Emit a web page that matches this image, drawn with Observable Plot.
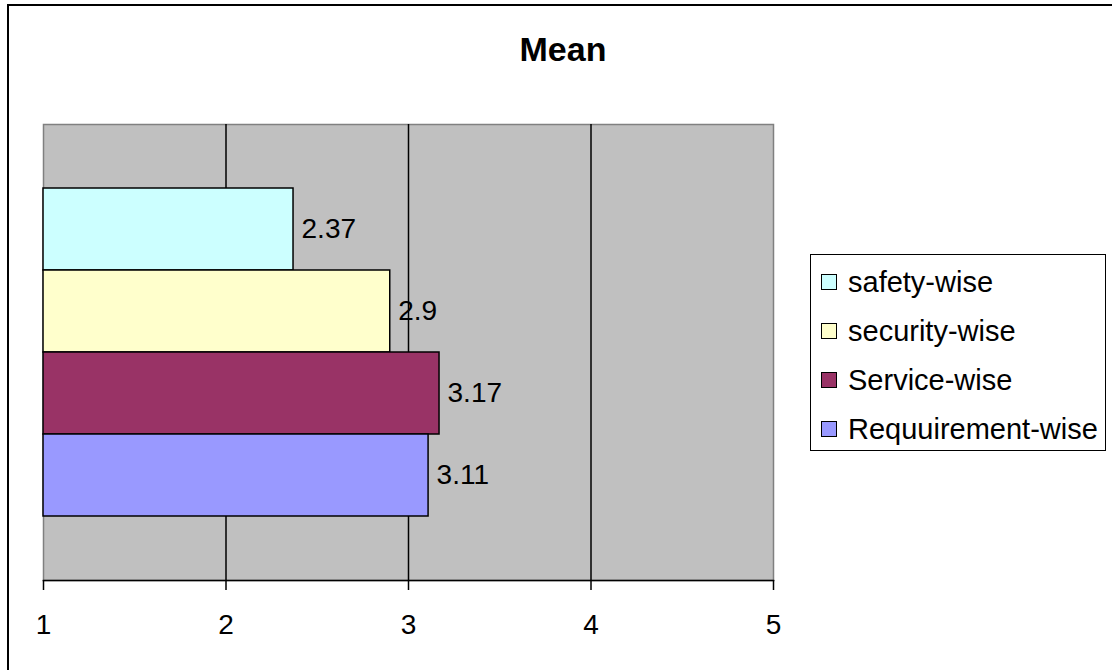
<!DOCTYPE html>
<html>
<head>
<meta charset="utf-8">
<script src="https://cdn.jsdelivr.net/npm/d3@7"></script>
<script src="https://cdn.jsdelivr.net/npm/@observablehq/plot@0.6"></script>
<style>
  html, body { margin: 0; padding: 0; background: #fff; }
  #wrap { position: relative; width: 1112px; height: 670px; overflow: hidden; font-family: "Liberation Sans", Arial, sans-serif; }
  #outer { position: absolute; left: 7px; top: 4px; width: 1200px; height: 800px; border: 2px solid #000; box-sizing: border-box; }
  #chart { position: absolute; left: 0; top: 0; }
  #title { position: absolute; left: 463px; width: 200px; top: 30px; text-align: center; font-weight: bold; font-size: 34px; line-height: 38px; }
  #legend { position: absolute; left: 810px; top: 254px; width: 296px; height: 197px; border: 1px solid #000; box-sizing: border-box; background: #fff; }
  .item { position: absolute; left: 10px; height: 30px; display: flex; align-items: center; font-size: 29px; white-space: nowrap; }
  .sw { width: 16px; height: 16px; border: 1.5px solid #000; box-sizing: border-box; margin-right: 11px; }
</style>
</head>
<body>
<div id="wrap">
  <div id="outer"></div>
  <div id="chart"></div>
  <div id="title">Mean</div>
  <div id="legend"></div>
</div>
<script>
const series = ["safety-wise", "security-wise", "Service-wise", "Requuirement-wise"];
const values = [2.37, 2.9, 3.17, 3.11];
const labels = ["2.37", "2.9", "3.17", "3.11"];
const colors = ["#CCFFFF", "#FFFFCC", "#993366", "#9999FF"];
const xTicks = [1, 2, 3, 4, 5];
const gridLines = [2, 3, 4];

const data = series.map((s, i) => ({series: s, value: values[i], label: labels[i]}));
const base = xTicks[0];

const chart = Plot.plot({
  width: 1112,
  height: 670,
  marginLeft: 43,
  marginRight: 339,
  marginTop: 124,
  marginBottom: 90,
  style: {fontFamily: '"Liberation Sans", Arial, sans-serif', background: "transparent", overflow: "visible"},
  x: {domain: [xTicks[0], xTicks[xTicks.length - 1]], ticks: xTicks},
  y: {domain: series, paddingInner: 0, paddingOuter: 0.75, axis: null},
  color: {domain: series, range: colors},
  marks: [
    Plot.frame({fill: "#C0C0C0", stroke: "#808080", strokeWidth: 1.5}),
    Plot.ruleX(gridLines, {stroke: "#000", strokeWidth: 1.5}),
    Plot.barX(data, {x1: () => base, x2: "value", y: "series", fill: "series", stroke: "#000", strokeWidth: 1.5, inset: 0}),
    Plot.text(data, {x: "value", y: "series", text: "label", dx: 8, textAnchor: "start", fontSize: 28, fill: "#000"}),
    Plot.frame({anchor: "bottom", stroke: "#000", strokeWidth: 1.5}),
    Plot.axisX({ticks: xTicks, tickSize: 10, tickPadding: 24, fontSize: 28, tickFormat: d => String(d), label: null, stroke: "#000", strokeWidth: 1.5, color: "#000"})
  ]
});
document.getElementById("chart").append(chart);

const legend = document.getElementById("legend");
const tops = [12, 61, 110, 159];
series.forEach((s, i) => {
  const item = document.createElement("div");
  item.className = "item";
  item.style.top = tops[i] + "px";
  const sw = document.createElement("div");
  sw.className = "sw";
  sw.style.background = colors[i];
  const t = document.createElement("span");
  t.textContent = s;
  item.append(sw, t);
  legend.append(item);
});
</script>
</body>
</html>
